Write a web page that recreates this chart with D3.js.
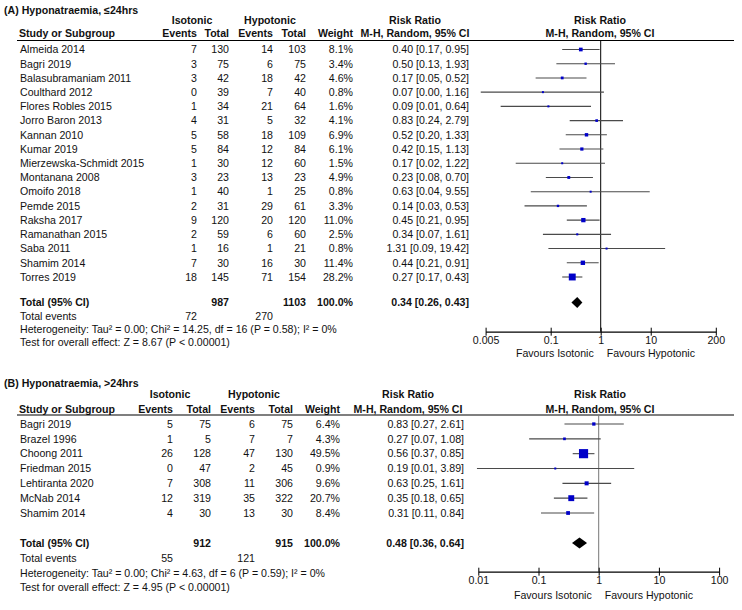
<!DOCTYPE html>
<html><head><meta charset="utf-8">
<script src="https://cdn.jsdelivr.net/npm/d3@7/dist/d3.min.js"></script>
<style>body{margin:0;background:#fff}svg{display:block}</style>
</head><body>
<svg id="c" width="742" height="610"></svg>
<script>
// ---------- Panel A data ----------
const studiesA = ["Almeida 2014","Bagri 2019","Balasubramaniam 2011","Coulthard 2012","Flores Robles 2015","Jorro Baron 2013","Kannan 2010","Kumar 2019","Mierzewska-Schmidt 2015","Montanana 2008","Omoifo 2018","Pemde 2015","Raksha 2017","Ramanathan 2015","Saba 2011","Shamim 2014","Torres 2019"];
const isoEventsA = [7,3,3,0,1,4,5,5,1,3,1,2,9,2,1,7,18];
const isoTotalA = [130,75,42,39,34,31,58,84,30,23,40,31,120,59,16,30,145];
const hypoEventsA = [14,6,18,7,21,5,18,12,12,13,1,29,20,6,1,16,71];
const hypoTotalA = [103,75,42,40,64,32,109,84,60,23,25,61,120,60,21,30,154];
const weightA = [8.1,3.4,4.6,0.8,1.6,4.1,6.9,6.1,1.5,4.9,0.8,3.3,11.0,2.5,0.8,11.4,28.2];
const rrA = [0.40,0.50,0.17,0.07,0.09,0.83,0.52,0.42,0.17,0.23,0.63,0.14,0.45,0.34,1.31,0.44,0.27];
const loA = [0.17,0.13,0.05,0.004,0.01,0.24,0.20,0.15,0.02,0.08,0.04,0.03,0.21,0.07,0.09,0.21,0.17];
const hiA = [0.95,1.93,0.52,1.16,0.64,2.79,1.33,1.13,1.22,0.70,9.55,0.53,0.95,1.61,19.42,0.91,0.43];
const totalsA = [987,1103];          // iso total, hypo total
const eventsA = [72,270];            // iso events, hypo events
const pooledA = [0.34,0.26,0.43];    // rr, lo, hi
const hetA = "Heterogeneity: Tau² = 0.00; Chi² = 14.25, df = 16 (P = 0.58); I² = 0%";
const testA = "Test for overall effect: Z = 8.67 (P < 0.00001)";
const ticksA = [0.005,0.1,1,10,200];

// ---------- Panel B data ----------
const studiesB = ["Bagri 2019","Brazel 1996","Choong 2011","Friedman 2015","Lehtiranta 2020","McNab 2014","Shamim 2014"];
const isoEventsB = [5,1,26,0,7,12,4];
const isoTotalB = [75,5,128,47,308,319,30];
const hypoEventsB = [6,7,47,2,11,35,13];
const hypoTotalB = [75,7,130,45,306,322,30];
const weightB = [6.4,4.3,49.5,0.9,9.6,20.7,8.4];
const rrB = [0.83,0.27,0.56,0.19,0.63,0.35,0.31];
const loB = [0.27,0.07,0.37,0.0095,0.25,0.18,0.11];
const hiB = [2.61,1.08,0.85,3.89,1.61,0.65,0.84];
const totalsB = [912,915];
const eventsB = [55,121];
const pooledB = [0.48,0.36,0.64];
const hetB = "Heterogeneity: Tau² = 0.00; Chi² = 4.63, df = 6 (P = 0.59); I² = 0%";
const testB = "Test for overall effect: Z = 4.95 (P < 0.00001)";
const ticksB = [0.01,0.1,1,10,100];

const svg = d3.select("#c");
const FONT = "'Liberation Sans', Arial, Helvetica, sans-serif";
const FS = 10.6;
const f2 = d3.format(".2f");
const f1 = d3.format(".1f");

function panel(p) {
  const g = svg.append("g").attr("font-family", FONT).attr("fill", "#000");
  const txt = (x, y, s, opts = {}) => g.append("text")
      .attr("x", x).attr("y", y + 3.8)
      .attr("text-anchor", opts.anchor || "start")
      .attr("font-size", opts.size || FS)
      .attr("font-weight", opts.bold ? "bold" : "normal")
      .attr("fill", opts.fill || "#111")
      .text(s);

  // headers
  txt(4, p.yTitle, p.title, {bold: true});
  txt(p.cIsoHead, p.yGroup, "Isotonic", {bold: true, anchor: "middle"});
  txt(p.cHypoHead, p.yGroup, "Hypotonic", {bold: true, anchor: "middle"});
  txt(p.cRRHead, p.yGroup, "Risk Ratio", {bold: true, anchor: "middle"});
  txt(600, p.yGroup, "Risk Ratio", {bold: true, anchor: "middle"});
  txt(19, p.yHead, "Study or Subgroup", {bold: true});
  txt(p.cols[0], p.yHead, "Events", {bold: true, anchor: "end"});
  txt(p.cols[1], p.yHead, "Total", {bold: true, anchor: "end"});
  txt(p.cols[2], p.yHead, "Events", {bold: true, anchor: "end"});
  txt(p.cols[3], p.yHead, "Total", {bold: true, anchor: "end"});
  txt(p.cols[4], p.yHead, "Weight", {bold: true, anchor: "end"});
  txt(p.cRRHead, p.yHead, "M-H, Random, 95% CI", {bold: true, anchor: "middle"});
  txt(600, p.yHead, "M-H, Random, 95% CI", {bold: true, anchor: "middle"});
  g.append("line").attr("x1", 17).attr("x2", 734).attr("y1", p.yLine).attr("y2", p.yLine)
    .attr("stroke", "#000").attr("stroke-width", 1.2);

  const n = p.studies.length;
  const y = d3.scaleLinear().domain([0, n - 1]).range([p.yFirst, p.yLast]);
  const x = d3.scaleLog().domain(p.domain).range(p.range);

  // table rows
  p.studies.forEach((s, i) => {
    const yy = y(i);
    txt(20, yy, s);
    txt(p.cols[0], yy, p.isoE[i], {anchor: "end"});
    txt(p.cols[1], yy, p.isoT[i], {anchor: "end"});
    txt(p.cols[2], yy, p.hypoE[i], {anchor: "end"});
    txt(p.cols[3], yy, p.hypoT[i], {anchor: "end"});
    txt(p.cols[4], yy, f1(p.w[i]) + "%", {anchor: "end"});
    txt(p.cols[5], yy, `${f2(p.rr[i])} [${f2(p.lo[i])}, ${f2(p.hi[i])}]`, {anchor: "end"});
  });

  // totals
  txt(20, p.yTotal, "Total (95% CI)", {bold: true});
  txt(p.cols[1], p.yTotal, p.totals[0], {bold: true, anchor: "end"});
  txt(p.cols[3], p.yTotal, p.totals[1], {bold: true, anchor: "end"});
  txt(p.cols[4], p.yTotal, "100.0%", {bold: true, anchor: "end"});
  txt(p.cols[5], p.yTotal, `${f2(p.pooled[0])} [${f2(p.pooled[1])}, ${f2(p.pooled[2])}]`, {bold: true, anchor: "end"});
  txt(20, p.yEvents, "Total events");
  txt(p.cols[0], p.yEvents, p.events[0], {anchor: "end"});
  txt(p.cols[2], p.yEvents, p.events[1], {anchor: "end"});
  txt(20, p.yHet, p.het);
  txt(20, p.yTest, p.test);

  // line of no effect
  g.append("line").attr("x1", x(1)).attr("x2", x(1)).attr("y1", p.yLine).attr("y2", p.yAxis)
    .attr("stroke", p.nullColor).attr("stroke-width", 1);

  // CIs and boxes
  const fg = svg.append("g");
  fg.selectAll("line.ci").data(p.studies).join("line")
    .attr("x1", (d, i) => x(p.lo[i])).attr("x2", (d, i) => x(p.hi[i]))
    .attr("y1", (d, i) => y(i)).attr("y2", (d, i) => y(i))
    .attr("stroke", "#4a4a4a").attr("stroke-width", 1.1);
  const side = w => Math.max(2, 1.3 * Math.sqrt(w));
  fg.selectAll("rect").data(p.studies).join("rect")
    .attr("x", (d, i) => x(p.rr[i]) - side(p.w[i]) / 2)
    .attr("y", (d, i) => y(i) - side(p.w[i]) / 2)
    .attr("width", (d, i) => side(p.w[i])).attr("height", (d, i) => side(p.w[i]))
    .attr("fill", "#0000c8");

  // diamond
  const [pr, pl, ph] = p.pooled;
  fg.append("path")
    .attr("d", `M${x(pl)},${p.yTotal} L${x(pr)},${p.yTotal - 5.5} L${x(ph)},${p.yTotal} L${x(pr)},${p.yTotal + 5.5} Z`)
    .attr("fill", "#000");

  // axis
  const ax = d3.axisBottom(x).tickValues(p.ticks).tickFormat(d3.format("~g"))
    .tickSizeOuter(0).tickSizeInner(4).tickPadding(3);
  const axg = svg.append("g").attr("transform", `translate(0,${p.yAxis})`).call(ax);
  axg.select(".domain").attr("stroke", "#000").attr("stroke-width", 1.2);
  axg.selectAll(".tick line").attr("y1", -4).attr("y2", 4).attr("stroke", "#000");
  axg.selectAll(".tick text").attr("font-family", FONT).attr("font-size", FS).attr("fill", "#111")
    .attr("y", 5).attr("dy", "0.71em");
  txt(x(1) - 7, p.yFav, "Favours Isotonic", {anchor: "end"});
  txt(x(1) + 6, p.yFav, "Favours Hypotonic");
}

panel({
  title: "(A) Hyponatraemia, ≤24hrs",
  studies: studiesA, isoE: isoEventsA, isoT: isoTotalA, hypoE: hypoEventsA, hypoT: hypoTotalA,
  w: weightA, rr: rrA, lo: loA, hi: hiA, totals: totalsA, events: eventsA, pooled: pooledA,
  het: hetA, test: testA, ticks: ticksA,
  domain: [0.005, 200], range: [485.6, 715.8], nullColor: "#000",
  cols: [197, 229, 273, 306, 353, 469],
  cIsoHead: 192, cHypoHead: 270, cRRHead: 415,
  yTitle: 10, yGroup: 20, yHead: 33.5, yLine: 40.5, yFirst: 49.5, yLast: 277,
  yTotal: 302.5, yEvents: 316, yHet: 329.5, yTest: 342.5, yAxis: 331.7, yFav: 353.3
});

panel({
  title: "(B) Hyponatraemia, >24hrs",
  studies: studiesB, isoE: isoEventsB, isoT: isoTotalB, hypoE: hypoEventsB, hypoT: hypoTotalB,
  w: weightB, rr: rrB, lo: loB, hi: hiB, totals: totalsB, events: eventsB, pooled: pooledB,
  het: hetB, test: testB, ticks: ticksB,
  domain: [0.01, 100], range: [478.3, 719.1], nullColor: "#777",
  cols: [173, 211, 255, 293, 340, 464],
  cIsoHead: 170, cHypoHead: 254, cRRHead: 408,
  yTitle: 383, yGroup: 394, yHead: 409, yLine: 415, yFirst: 424, yLast: 513,
  yTotal: 543, yEvents: 558.5, yHet: 573, yTest: 587, yAxis: 571.7, yFav: 595
});
</script>
</body></html>
